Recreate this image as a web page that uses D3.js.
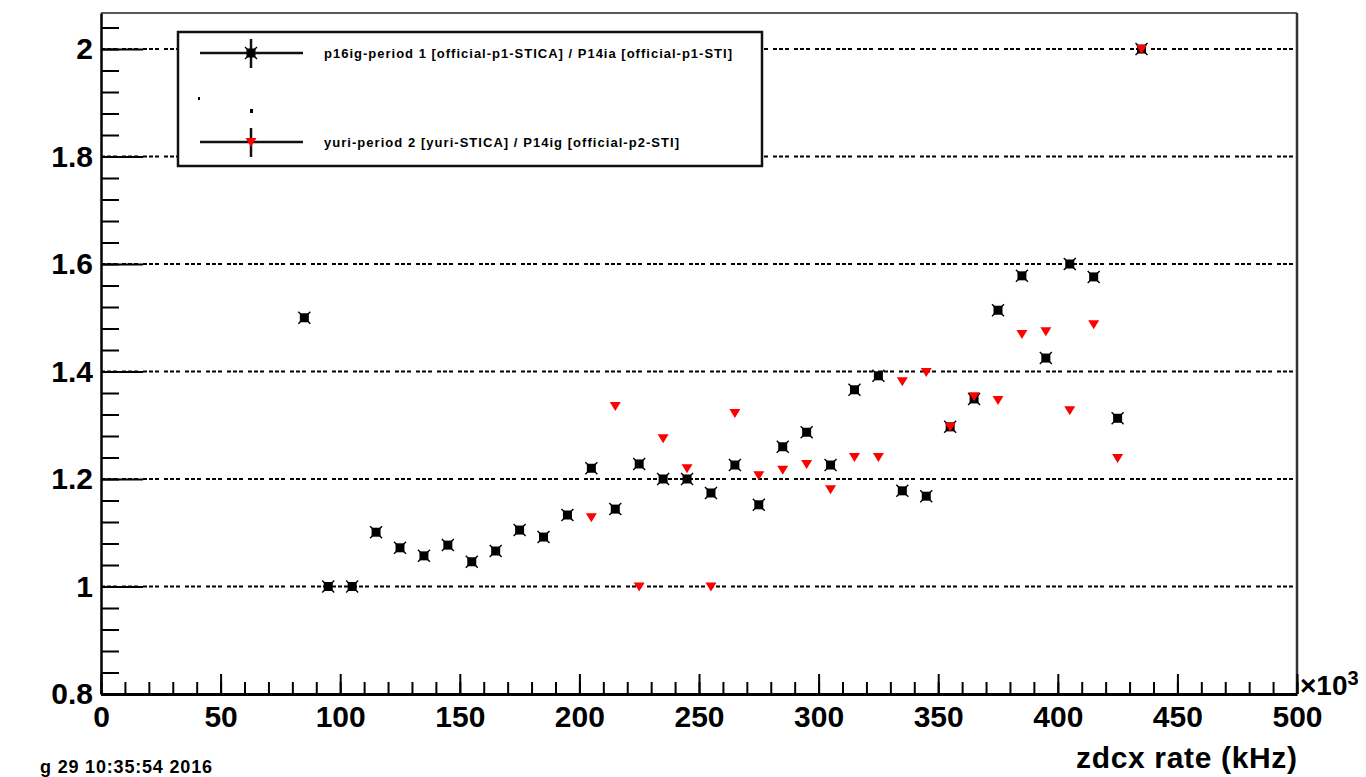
<!DOCTYPE html>
<html>
<head>
<meta charset="utf-8">
<script src="https://cdn.jsdelivr.net/npm/d3@7"></script>
<style>
  body { margin: 0; background: #fff; }
  svg { display: block; font-family: "Liberation Sans", Arial, sans-serif; font-weight: bold; }
</style>
</head>
<body>
<div id="chart"></div>
<script>
// zdcx rate bin centres (x10^3 kHz on the axis) and the ratio in each bin
let p1Rate = [85, 95, 105, 115, 125, 135, 145, 155, 165, 175, 185, 195, 205, 215, 225, 235, 245, 255,
  265, 275, 285, 295, 305, 315, 325, 335, 345, 355, 365, 375, 385, 395, 405, 415, 425, 435]
let p1Ratio = [1.50, 1.00, 1.00, 1.101, 1.072, 1.057, 1.077, 1.046, 1.066, 1.105, 1.092, 1.133, 1.220,
  1.144, 1.228, 1.200, 1.200, 1.174, 1.226, 1.152, 1.260, 1.287, 1.226, 1.366, 1.392, 1.178, 1.168,
  1.297, 1.349, 1.514, 1.578, 1.425, 1.600, 1.576, 1.313, 2.0]

let p2Rate = [205, 215, 225, 235, 245, 255, 265, 275, 285, 295, 305, 315, 325, 335, 345, 355, 365, 375,
  385, 395, 405, 415, 425, 435]
let p2Ratio = [1.129, 1.336, 1.0, 1.276, 1.220, 1.0, 1.323, 1.207, 1.217, 1.228, 1.181, 1.241, 1.241,
  1.382, 1.399, 1.297, 1.354, 1.347, 1.470, 1.475, 1.328, 1.488, 1.239, 2.0]

let seriesLabels = [
  'p16ig-period 1 [official-p1-STICA] / P14ia [official-p1-STI]',
  'yuri-period 2 [yuri-STICA] / P14ig [official-p2-STI]'
]
let yTickLabels = [0.8, 1, 1.2, 1.4, 1.6, 1.8, 2]
let xTickLabels = [0, 50, 100, 150, 200, 250, 300, 350, 400, 450, 500]
let xTitle = 'zdcx rate (kHz)'
let dateStamp = 'g 29 10:35:54 2016'

var width = 1366
var height = 777

var svg = d3.select('#chart')
  .append('svg')
  .attr('width', width)
  .attr('height', height)

var x = d3.scaleLinear().domain([0, 500]).range([101, 1297])
var y = d3.scaleLinear().domain([0.8, 2.067]).range([694, 13])

// minor tick values (every 10 on x, every 0.04 on y)
var xMinor = d3.range(0, 501, 10)
var yMinor = d3.range(0, 32).map(i => 0.8 + i * 0.04)

// dashed horizontal grid
svg.append('g')
  .selectAll('line')
  .data(yTickLabels.filter(v => v > 0.8))
  .enter()
  .append('line')
  .attr('x1', x(0))
  .attr('x2', x(500))
  .attr('y1', d => y(d))
  .attr('y2', d => y(d))
  .attr('stroke', '#000')
  .attr('stroke-width', 2)
  .attr('stroke-dasharray', '4,2,4,2,4,5')

// frame top + right
svg.append('line')
  .attr('x1', x(0)).attr('x2', x(500))
  .attr('y1', y(2.067)).attr('y2', y(2.067))
  .attr('stroke', '#222').attr('stroke-width', 1.5)
svg.append('line')
  .attr('x1', x(500)).attr('x2', x(500))
  .attr('y1', y(2.067)).attr('y2', y(0.8))
  .attr('stroke', '#333').attr('stroke-width', 2.5)

// y axis, ticks pointing into the frame
svg.append('g')
  .attr('transform', 'translate(' + x(0) + ',0)')
  .call(d3.axisLeft(y).tickValues(yMinor).tickSizeInner(-18).tickSizeOuter(0).tickFormat(''))
  .call(g => g.selectAll('line').attr('stroke-width', 2))
  .call(g => g.select('.domain').attr('stroke-width', 2.5))

svg.append('g')
  .attr('transform', 'translate(' + x(0) + ',0)')
  .call(d3.axisLeft(y).tickValues(yTickLabels).tickSizeInner(-42).tickSizeOuter(0).tickPadding(8)
    .tickFormat(d => String(+d.toFixed(1))))
  .call(g => g.select('.domain').remove())
  .call(g => g.selectAll('line').attr('stroke-width', 2))
  .call(g => g.selectAll('text')
    .attr('font-family', '"Liberation Sans", Arial, sans-serif')
    .attr('font-weight', 'bold')
    .attr('font-size', 30)
    .attr('fill', '#000'))

// x axis
svg.append('g')
  .attr('transform', 'translate(0,' + y(0.8) + ')')
  .call(d3.axisBottom(x).tickValues(xMinor).tickSizeInner(-12).tickSizeOuter(0).tickFormat(''))
  .call(g => g.selectAll('line').attr('stroke-width', 2))
  .call(g => g.select('.domain').attr('stroke-width', 3))

svg.append('g')
  .attr('transform', 'translate(0,' + y(0.8) + ')')
  .call(d3.axisBottom(x).tickValues(xTickLabels).tickSizeInner(-20).tickSizeOuter(0).tickPadding(12))
  .call(g => g.select('.domain').remove())
  .call(g => g.selectAll('line').attr('stroke-width', 2))
  .call(g => g.selectAll('text')
    .attr('font-family', '"Liberation Sans", Arial, sans-serif')
    .attr('font-weight', 'bold')
    .attr('font-size', 30)
    .attr('fill', '#000'))

// exponent next to the axis end
svg.append('text')
  .attr('x', 1300)
  .attr('y', 695)
  .attr('font-size', 28)
  .text('\u00d710')
  .append('tspan')
  .attr('dy', -10)
  .attr('font-size', 20)
  .text('3')

svg.append('text')
  .attr('x', x(500))
  .attr('y', 768)
  .attr('text-anchor', 'end')
  .attr('font-size', 30)
  .attr('textLength', 221)
  .text(xTitle)

svg.append('text')
  .attr('x', 40)
  .attr('y', 773)
  .attr('font-size', 18)
  .attr('textLength', 172)
  .text(dateStamp)

// markers
function starMarker (sel, colour) {
  sel.append('rect')
    .attr('x', -4.5).attr('y', -4.5)
    .attr('width', 9).attr('height', 9)
    .attr('fill', colour)
  sel.append('path')
    .attr('d', 'M-6,-6L6,6M-6,6L6,-6')
    .attr('stroke', colour)
    .attr('stroke-width', 1.4)
}

function triMarker (sel, colour) {
  sel.append('path')
    .attr('d', 'M-5.5,-4L5.5,-4L0,5Z')
    .attr('fill', colour)
}

var p1 = p1Rate.map((r, i) => ({rate: r, ratio: p1Ratio[i]}))
var p2 = p2Rate.map((r, i) => ({rate: r, ratio: p2Ratio[i]}))

svg.append('g')
  .selectAll('g')
  .data(p1)
  .enter()
  .append('g')
  .attr('transform', d => 'translate(' + x(d.rate) + ',' + y(d.ratio) + ')')
  .each(function () { starMarker(d3.select(this), '#000') })

svg.append('g')
  .selectAll('g')
  .data(p2)
  .enter()
  .append('g')
  .attr('transform', d => 'translate(' + x(d.rate) + ',' + y(d.ratio) + ')')
  .each(function () { triMarker(d3.select(this), '#ff0000') })

// legend
var legend = svg.append('g')
legend.append('rect')
  .attr('x', 178).attr('y', 32)
  .attr('width', 584).attr('height', 134)
  .attr('fill', '#fff')
  .attr('stroke', '#111')
  .attr('stroke-width', 2.5)

var legendRows = [53, 142]
legendRows.forEach(function (ly, i) {
  legend.append('line')
    .attr('x1', 200).attr('x2', 303)
    .attr('y1', ly).attr('y2', ly)
    .attr('stroke', '#111').attr('stroke-width', 2.5)
  legend.append('line')
    .attr('x1', 251).attr('x2', 251)
    .attr('y1', ly - 14).attr('y2', ly + 15)
    .attr('stroke', '#111').attr('stroke-width', 2.5)
  var m = legend.append('g').attr('transform', 'translate(251,' + ly + ')')
  if (i === 0) {
    starMarker(m, '#000')
  } else {
    triMarker(m, '#ff0000')
  }
  legend.append('text')
    .attr('x', 324)
    .attr('y', ly + 5)
    .attr('font-size', 13)
    .attr('textLength', i === 0 ? 408 : 355)
    .text(seriesLabels[i])
})

// stray empty middle entry
legend.append('rect').attr('x', 198).attr('y', 97).attr('width', 2).attr('height', 3).attr('fill', '#000')
legend.append('rect').attr('x', 250).attr('y', 109).attr('width', 3).attr('height', 4).attr('fill', '#000')
</script>
</body>
</html>
